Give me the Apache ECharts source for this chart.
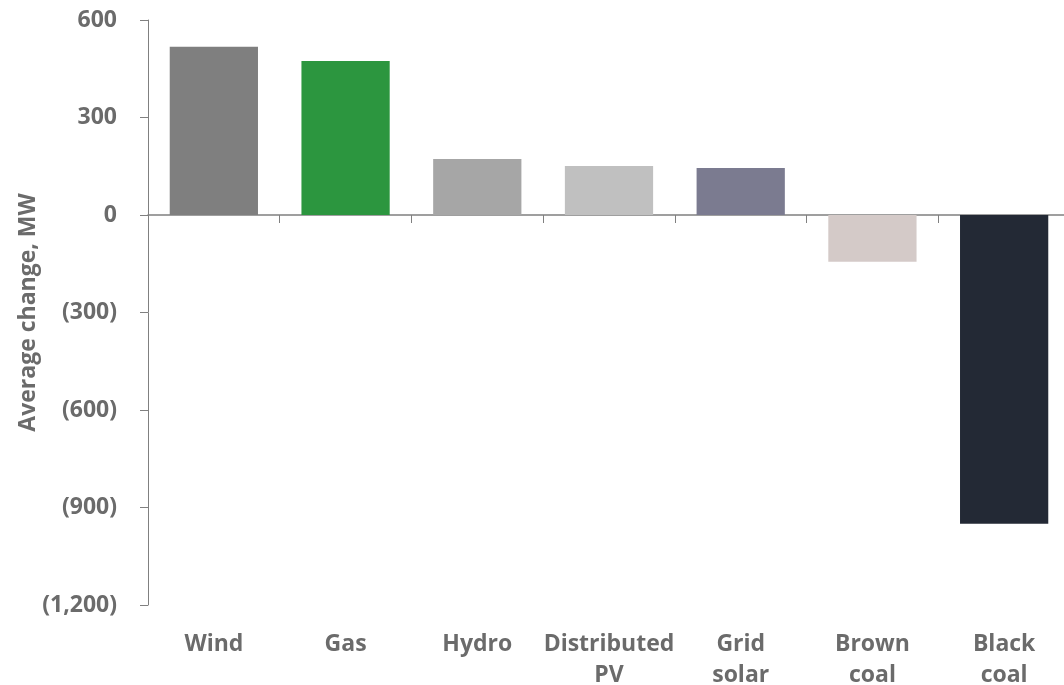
<!DOCTYPE html>
<html>
<head>
<meta charset="utf-8">
<title>Average change in generation by fuel type</title>
<script src="https://cdn.jsdelivr.net/npm/echarts@6/dist/echarts.min.js"></script>
<style>
  html, body { margin: 0; padding: 0; background: #ffffff; }
  #chart { width: 1064px; height: 685px; }
</style>
</head>
<body>
<div id="chart"></div>
<script>
// Fuel types along the x axis
const categories = ['Wind', 'Gas', 'Hydro', 'Distributed\nPV', 'Grid\nsolar', 'Brown\ncoal', 'Black\ncoal'];
// Average change per fuel type, MW
const changeMW = [518, 474, 172, 151, 145, -144, -950];
// Value axis range and step
const axisMin = -1200;
const axisMax = 600;
const axisStep = 300;

// One fill per fuel type
const barColors = ['#7f7f7f', '#2c963f', '#a6a6a6', '#c0c0c0', '#7b7b90', '#d4cac8', '#232935'];

const textColor = '#6b6b6b';
const lineColor = '#808080';
const fontFamily = '"Open Sans", "Noto Sans", sans-serif';

// Accounting style: negatives in brackets, thousands separated by commas
function fmt(v) {
  const s = Math.abs(v).toLocaleString('en-US');
  return v < 0 ? '(' + s + ')' : s;
}

const chart = echarts.init(document.getElementById('chart'), null, { renderer: 'canvas' });

chart.setOption({
  animation: false,
  backgroundColor: '#ffffff',
  grid: {
    left: 148, right: -6, top: 20, bottom: 80,
    containLabel: false,
    outerBoundsMode: 'none'
  },
  xAxis: [
    {
      // Baseline through zero with the category separators
      type: 'category',
      data: categories,
      position: 'bottom',
      axisLine: { onZero: true, lineStyle: { color: lineColor, width: 1.5 } },
      axisTick: { show: true, length: 8, lineStyle: { color: lineColor } },
      axisLabel: { show: false },
      splitLine: { show: false }
    },
    {
      // Category names along the bottom of the plot
      type: 'category',
      data: categories,
      position: 'bottom',
      axisLine: { show: false, onZero: false },
      axisTick: { show: false },
      axisLabel: {
        show: true,
        interval: 0,
        margin: 24,
        color: textColor,
        fontFamily: fontFamily,
        fontWeight: 'bold',
        fontSize: 23,
        lineHeight: 31,
        verticalAlign: 'top'
      },
      splitLine: { show: false }
    }
  ],
  yAxis: {
    type: 'value',
    min: axisMin,
    max: axisMax,
    interval: axisStep,
    name: 'Average change, MW',
    nameLocation: 'middle',
    nameGap: 108,
    nameMoveOverlap: false,
    nameTextStyle: {
      color: textColor,
      fontFamily: fontFamily,
      fontWeight: 'bold',
      fontSize: 23
    },
    axisLine: { show: true, lineStyle: { color: lineColor, width: 1 } },
    axisTick: { show: true, length: 8, lineStyle: { color: lineColor } },
    splitLine: { show: false },
    axisLabel: {
      margin: 31,
      color: textColor,
      fontFamily: fontFamily,
      fontWeight: 'bold',
      fontSize: 23,
      formatter: fmt
    }
  },
  series: [
    {
      type: 'bar',
      xAxisIndex: 0,
      data: changeMW,
      barCategoryGap: '33%',
      itemStyle: {
        color: function (p) { return barColors[p.dataIndex]; }
      }
    }
  ]
});
</script>
</body>
</html>
